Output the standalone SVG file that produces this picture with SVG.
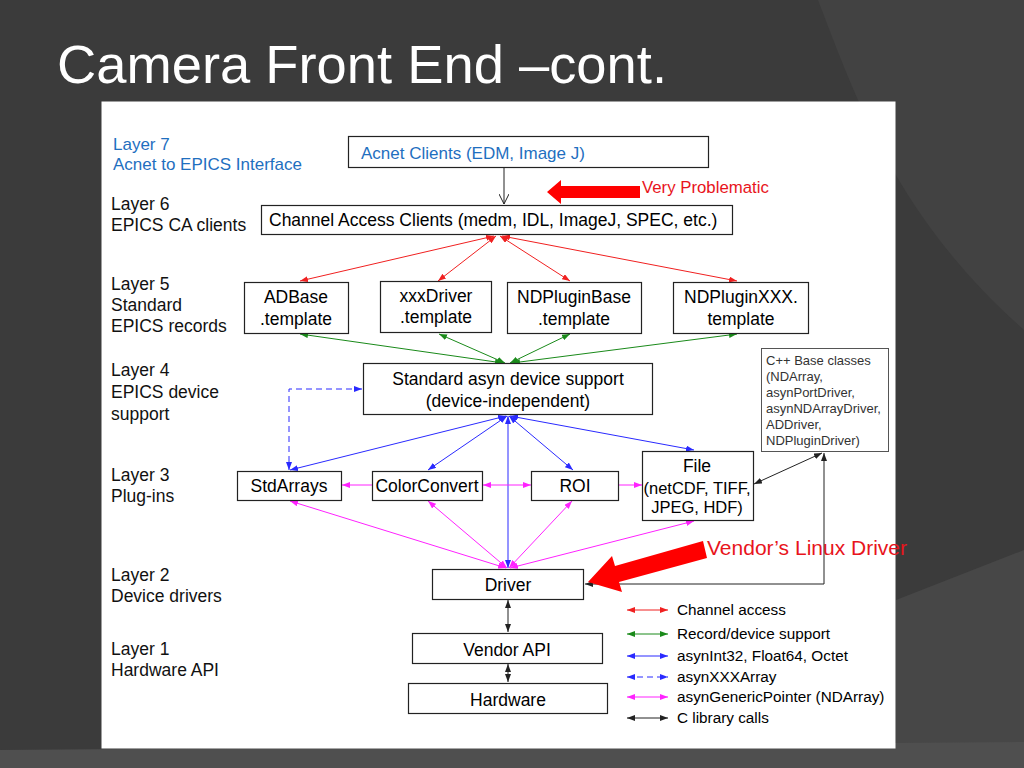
<svg xmlns="http://www.w3.org/2000/svg" width="1024" height="768" viewBox="0 0 1024 768">
<style>
.t{font-family:"Liberation Sans",Arial,sans-serif;font-size:17.5px;fill:#000}
.c{text-anchor:middle}
.lb{font-family:"Liberation Sans",Arial,sans-serif;font-size:17.5px;fill:#111}
.bl{fill:#1f6fbf}
.box{fill:#fff;stroke:#222;stroke-width:1.2}
.cls{font-family:"Liberation Sans",Arial,sans-serif;font-size:13px;fill:#333}
.lg{font-family:"Liberation Sans",Arial,sans-serif;font-size:15.3px;fill:#000}
.red{stroke:#f02020;stroke-width:1;fill:none;marker-start:url(#mr);marker-end:url(#mr)}
.grn{stroke:#1a8a1a;stroke-width:1;fill:none;marker-start:url(#mg);marker-end:url(#mg)}
.blu{stroke:#2a2aff;stroke-width:1;fill:none;marker-start:url(#mb);marker-end:url(#mb)}
.mag{stroke:#ff22ff;stroke-width:1;fill:none;marker-start:url(#mm);marker-end:url(#mm)}
.blk{stroke:#222;stroke-width:1;fill:none;marker-start:url(#mk);marker-end:url(#mk)}
</style>
<defs>
<marker id="mr" viewBox="0 0 8 6" refX="8" refY="3" markerWidth="8" markerHeight="6" markerUnits="userSpaceOnUse" orient="auto-start-reverse"><path d="M0,0 L8,3 L0,6 z" fill="#f02020"/></marker>
<marker id="mg" viewBox="0 0 8 6" refX="8" refY="3" markerWidth="8" markerHeight="6" markerUnits="userSpaceOnUse" orient="auto-start-reverse"><path d="M0,0 L8,3 L0,6 z" fill="#1a8a1a"/></marker>
<marker id="mb" viewBox="0 0 8 6" refX="8" refY="3" markerWidth="8" markerHeight="6" markerUnits="userSpaceOnUse" orient="auto-start-reverse"><path d="M0,0 L8,3 L0,6 z" fill="#2a2aff"/></marker>
<marker id="mm" viewBox="0 0 8 6" refX="8" refY="3" markerWidth="8" markerHeight="6" markerUnits="userSpaceOnUse" orient="auto-start-reverse"><path d="M0,0 L8,3 L0,6 z" fill="#ff22ff"/></marker>
<marker id="mk" viewBox="0 0 8 6" refX="8" refY="3" markerWidth="8" markerHeight="6" markerUnits="userSpaceOnUse" orient="auto-start-reverse"><path d="M0,0 L8,3 L0,6 z" fill="#222"/></marker>
<marker id="mo" viewBox="0 0 10 10" refX="10" refY="5" markerWidth="10" markerHeight="10" markerUnits="userSpaceOnUse" orient="auto"><path d="M0,0 L10,5 L0,10" fill="none" stroke="#222" stroke-width="1"/></marker>
</defs>

<!-- background -->
<rect x="0" y="0" width="1024" height="768" fill="#3b3b3b"/>
<path d="M818,0 C860,110 900,220 1024,330 L1024,0 Z" fill="#424242"/>
<path d="M896,600 L1024,550 L1024,768 L896,768 Z" fill="#474747"/>
<path d="M0,750 L1024,742 L1024,768 L0,768 Z" fill="#4f4f4f"/>

<text x="57" y="83" font-family="'Liberation Sans',Arial,sans-serif" font-size="54" fill="#fff" textLength="610" lengthAdjust="spacingAndGlyphs">Camera Front End –cont.</text>

<rect x="101.5" y="101.5" width="794" height="647" fill="#fff"/>

<!-- layer labels -->
<g id="layer-labels">
<text class="lb bl" x="113" y="150" style="font-size:17px">Layer 7</text>
<text class="lb bl" x="113" y="170" style="font-size:17px">Acnet to EPICS Interface</text>
<text class="lb" x="111" y="210">Layer 6</text>
<text class="lb" x="111" y="231">EPICS CA clients</text>
<text class="lb" x="111" y="290">Layer 5</text>
<text class="lb" x="111" y="311">Standard</text>
<text class="lb" x="111" y="332">EPICS records</text>
<text class="lb" x="111" y="376">Layer 4</text>
<text class="lb" x="111" y="398">EPICS device</text>
<text class="lb" x="111" y="420">support</text>
<text class="lb" x="111" y="481">Layer 3</text>
<text class="lb" x="111" y="502">Plug-ins</text>
<text class="lb" x="111" y="581">Layer 2</text>
<text class="lb" x="111" y="602">Device drivers</text>
<text class="lb" x="111" y="655">Layer 1</text>
<text class="lb" x="111" y="676">Hardware API</text>
</g>

<!-- connectors -->
<g id="connectors">
<line x1="504" y1="168" x2="504" y2="204" stroke="#222" stroke-width="1" marker-end="url(#mo)"/>
<line class="red" x1="494" y1="236" x2="300" y2="281"/>
<line class="red" x1="496" y1="236" x2="438" y2="281"/>
<line class="red" x1="500" y1="236" x2="570" y2="281"/>
<line class="red" x1="502" y1="236" x2="737" y2="281"/>
<line class="grn" x1="503" y1="363" x2="300" y2="334"/>
<line class="grn" x1="505" y1="363" x2="439" y2="334"/>
<line class="grn" x1="510" y1="363" x2="570" y2="334"/>
<line class="grn" x1="512" y1="363" x2="737" y2="334"/>
<path class="blu" d="M362,389 L289,389 L289,470" stroke-dasharray="6,4"/>
<line class="blu" x1="506" y1="416" x2="290" y2="470"/>
<line class="blu" x1="507" y1="416" x2="428" y2="470"/>
<line class="blu" x1="508" y1="416" x2="508" y2="568"/>
<line class="blu" x1="509" y1="416" x2="573" y2="470"/>
<line class="blu" x1="510" y1="416" x2="694" y2="450"/>
<line x1="372" y1="485" x2="342" y2="485" stroke="#ff22ff" stroke-width="1" marker-end="url(#mm)"/>
<line class="mag" x1="483" y1="485" x2="531" y2="485"/>
<line x1="618" y1="485" x2="642" y2="485" stroke="#ff22ff" stroke-width="1" marker-end="url(#mm)"/>
<line class="mag" x1="506" y1="568" x2="290" y2="501"/>
<line class="mag" x1="507" y1="568" x2="428" y2="501"/>
<line class="mag" x1="509" y1="568" x2="572" y2="501"/>
<line class="mag" x1="510" y1="568" x2="694" y2="521"/>
<line class="blk" x1="754" y1="484" x2="822" y2="453"/>
<path class="blk" d="M824,453 L824,584 L585,584"/>
<line class="blk" x1="508" y1="600" x2="508" y2="632"/>
<line class="blk" x1="508" y1="664" x2="508" y2="682"/>
</g>

<!-- nodes -->
<g id="acnet-clients">
<rect class="box" x="348.5" y="136.5" width="360" height="31"/>
<text class="t bl" x="361" y="159" style="font-size:17px">Acnet Clients (EDM, Image J)</text>
</g>
<g id="ca-clients">
<rect class="box" x="261.5" y="205.5" width="471" height="29"/>
<text class="t" x="269" y="226">Channel Access Clients (medm, IDL, ImageJ, SPEC, etc.)</text>
</g>
<g id="adbase">
<rect class="box" x="244.5" y="282.5" width="104" height="51"/>
<text class="t c" x="296" y="303">ADBase</text>
<text class="t c" x="296" y="325">.template</text>
</g>
<g id="xxxdriver">
<rect class="box" x="380.5" y="281.5" width="111" height="51"/>
<text class="t c" x="436" y="302">xxxDriver</text>
<text class="t c" x="436" y="323">.template</text>
</g>
<g id="ndpluginbase">
<rect class="box" x="507.5" y="282.5" width="134" height="51"/>
<text class="t c" x="574" y="303">NDPluginBase</text>
<text class="t c" x="574" y="325">.template</text>
</g>
<g id="ndpluginxxx">
<rect class="box" x="673.5" y="282.5" width="135" height="51"/>
<text class="t c" x="741" y="303">NDPluginXXX.</text>
<text class="t c" x="741" y="325">template</text>
</g>
<g id="std-asyn">
<rect class="box" x="363.5" y="363.5" width="289" height="51"/>
<text class="t c" x="508" y="385">Standard asyn device support</text>
<text class="t c" x="508" y="407">(device-independent)</text>
</g>
<g id="cpp-base">
<rect x="761.5" y="348.5" width="127" height="103" fill="#fff" stroke="#555" stroke-width="1"/>
<text class="cls" x="766" y="365">C++ Base classes</text>
<text class="cls" x="766" y="381">(NDArray,</text>
<text class="cls" x="766" y="397">asynPortDriver,</text>
<text class="cls" x="766" y="413">asynNDArrayDriver,</text>
<text class="cls" x="766" y="429">ADDriver,</text>
<text class="cls" x="766" y="445">NDPluginDriver)</text>
</g>
<g id="stdarrays">
<rect class="box" x="237.5" y="471.5" width="104" height="29"/>
<text class="t c" x="289" y="492">StdArrays</text>
</g>
<g id="colorconvert">
<rect class="box" x="372.5" y="471.5" width="110" height="29"/>
<text class="t c" x="427" y="492">ColorConvert</text>
</g>
<g id="roi">
<rect class="box" x="531.5" y="471.5" width="87" height="29"/>
<text class="t c" x="575" y="492">ROI</text>
</g>
<g id="file">
<rect class="box" x="642.5" y="451.5" width="111" height="69"/>
<text class="t c" x="697" y="472">File</text>
<text class="t c" x="697" y="494" style="font-size:16.5px">(netCDF, TIFF,</text>
<text class="t c" x="697" y="513" style="font-size:16.5px">JPEG, HDF)</text>
</g>
<g id="driver">
<rect class="box" x="432.5" y="569.5" width="151" height="30"/>
<text class="t c" x="508" y="591">Driver</text>
</g>
<g id="vendor-api">
<rect class="box" x="412.5" y="633.5" width="190" height="30"/>
<text class="t c" x="507" y="656">Vendor API</text>
</g>
<g id="hardware">
<rect class="box" x="408.5" y="683.5" width="199" height="30"/>
<text class="t c" x="508" y="706">Hardware</text>
</g>

<!-- callouts -->
<g id="very-problematic">
<path d="M640,186 L561,186 L561,180 L547,192 L561,204 L561,198 L640,198 Z" fill="#ff0000"/>
<text x="642" y="193" font-family="'Liberation Sans',Arial,sans-serif" font-size="16.8" fill="#e8141c">Very Problematic</text>
</g>
<g id="vendor-linux-driver">
<path d="M703,541 L615,566 L612,556 L588,582 L622,592 L619,582 L707,558 Z" fill="#ff0000"/>
<text x="707" y="555" font-family="'Liberation Sans',Arial,sans-serif" font-size="21" fill="#e8141c">Vendor’s Linux Driver</text>
</g>

<!-- legend -->
<g id="legend">
<line x1="627" y1="610" x2="668" y2="610" stroke="#f02020" stroke-width="1" marker-start="url(#mr)" marker-end="url(#mr)"/>
<line x1="627" y1="634" x2="668" y2="634" stroke="#1a8a1a" stroke-width="1" marker-start="url(#mg)" marker-end="url(#mg)"/>
<line x1="627" y1="656" x2="668" y2="656" stroke="#2a2aff" stroke-width="1" marker-start="url(#mb)" marker-end="url(#mb)"/>
<line x1="627" y1="677" x2="668" y2="677" stroke="#2a2aff" stroke-width="1" stroke-dasharray="6,4" marker-start="url(#mb)" marker-end="url(#mb)"/>
<line x1="627" y1="697" x2="668" y2="697" stroke="#ff22ff" stroke-width="1" marker-start="url(#mm)" marker-end="url(#mm)"/>
<line x1="627" y1="718" x2="668" y2="718" stroke="#222" stroke-width="1" marker-start="url(#mk)" marker-end="url(#mk)"/>
<text class="lg" x="677" y="615">Channel access</text>
<text class="lg" x="677" y="639">Record/device support</text>
<text class="lg" x="677" y="661">asynInt32, Float64, Octet</text>
<text class="lg" x="677" y="682">asynXXXArray</text>
<text class="lg" x="677" y="702">asynGenericPointer (NDArray)</text>
<text class="lg" x="677" y="723">C library calls</text>
</g>
</svg>
